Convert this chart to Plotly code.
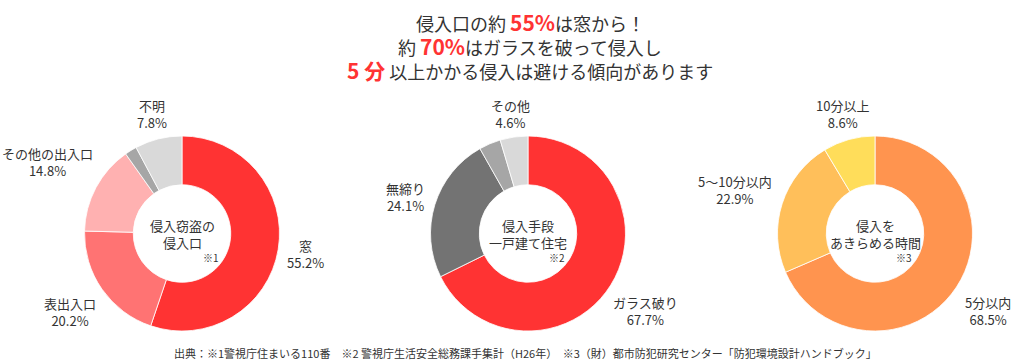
import plotly.graph_objects as go

# ---- data ----
entry_labels = ["窓", "表出入口", "その他の出入口", "", "不明"]
entry_values = [55.2, 20.2, 14.8, 2.0, 7.8]
entry_colors = ["#ff3333", "#ff7373", "#ffb1b1", "#a6a6a6", "#d9d9d9"]

method_labels = ["ガラス破り", "無締り", "", "その他"]
method_values = [67.7, 24.1, 3.6, 4.6]
method_colors = ["#ff3333", "#737373", "#a6a6a6", "#d9d9d9"]

time_labels = ["5分以内", "5〜10分以内", "10分以上"]
time_values = [68.5, 22.9, 8.6]
time_colors = ["#ff944f", "#ffbf5a", "#ffdd5a"]

W, H = 1012, 363
TXT = "#333333"
FONT = "Noto Sans CJK JP"

def px(x, y):
    return x / W, 1 - y / H

charts = [
    dict(labels=entry_labels, values=entry_values, colors=entry_colors, cx=182,
         center=["侵入窃盗の", "侵入口"], note="※1",
         pos=[(305, 254), (70, 312), (47, 162), None, (152, 114)]),
    dict(labels=method_labels, values=method_values, colors=method_colors, cx=528,
         center=["侵入手段", "一戸建て住宅"], note="※2",
         pos=[(645, 311), (405, 197), None, (510, 114)]),
    dict(labels=time_labels, values=time_values, colors=time_colors, cx=875,
         center=["侵入を", "あきらめる時間"], note="※3",
         pos=[(988, 311), (735, 190), (842, 114)]),
]

CY, R = 233.5, 97.5
fig = go.Figure()
annotations = []
for c in charts:
    fig.add_trace(go.Pie(
        labels=[l if l else " " * (i + 1) for i, l in enumerate(c["labels"])],
        values=c["values"],
        marker=dict(colors=c["colors"], line=dict(color="white", width=0.8)),
        hole=0.5, sort=False, direction="clockwise", rotation=0,
        textinfo="none", hoverinfo="label+percent", showlegend=False,
        domain=dict(x=[(c["cx"] - R) / W, (c["cx"] + R) / W],
                    y=[(H - CY - R) / H, (H - CY + R) / H]),
    ))
    for lab, val, p in zip(c["labels"], c["values"], c["pos"]):
        if p is None:
            continue
        x, y = px(*p)
        annotations.append(dict(x=x, y=y, xref="paper", yref="paper",
                                text=f"{lab}<br>{val:.1f}%", showarrow=False,
                                font=dict(size=13, color=TXT, family=FONT),
                                align="center", xanchor="center", yanchor="middle"))
    x, y = px(c["cx"], 234)
    annotations.append(dict(x=x, y=y, xref="paper", yref="paper",
                            text="<br>".join(c["center"]), showarrow=False,
                            font=dict(size=13, color=TXT, family=FONT),
                            align="center", xanchor="center", yanchor="middle"))
    x, y = px(c["cx"] + 29, 257)
    annotations.append(dict(x=x, y=y, xref="paper", yref="paper",
                            text=c["note"], showarrow=False,
                            font=dict(size=10, color=TXT, family=FONT),
                            xanchor="center", yanchor="middle"))

RED = "<b><span style='color:#ff3333;font-size:21px'>{}</span></b>"
title_lines = [
    ("侵入口の約 " + RED.format("55%") + "は窓から！", 22),
    ("約 " + RED.format("70%") + "はガラスを破って侵入し", 46),
    (RED.format("5 分") + " 以上かかる侵入は避ける傾向があります", 70),
]
for t, y in title_lines:
    xx, yy = px(530, y)
    annotations.append(dict(x=xx, y=yy, xref="paper", yref="paper", text=t,
                            showarrow=False, font=dict(size=18, color=TXT, family=FONT),
                            xanchor="center", yanchor="middle"))

footer = "出典：※1警視庁住まいる110番　※2 警視庁生活安全総務課手集計（H26年）　※3（財）都市防犯研究センター「防犯環境設計ハンドブック」"
xx, yy = px(525, 353)
annotations.append(dict(x=xx, y=yy, xref="paper", yref="paper", text=footer,
                        showarrow=False, font=dict(size=11, color=TXT, family=FONT),
                        xanchor="center", yanchor="middle"))

fig.update_layout(width=W, height=H, margin=dict(l=0, r=0, t=0, b=0),
                  paper_bgcolor="white", plot_bgcolor="white",
                  annotations=annotations)
fig.write_html("out.html", config={"displayModeBar": False},
               post_script="document.body.style.margin='0';document.body.style.overflow='hidden';")
